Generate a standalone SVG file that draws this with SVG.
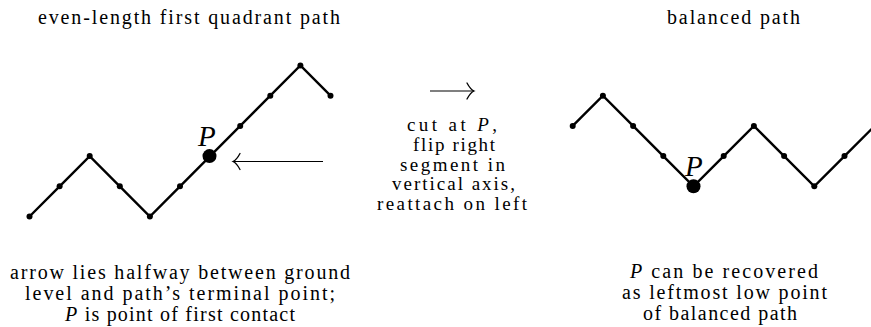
<svg xmlns="http://www.w3.org/2000/svg" width="871" height="327" viewBox="0 0 871 327">
<style>
  text { font-family: "Liberation Serif", "DejaVu Serif", serif; font-size: 20px; fill: #000; }
  .mid { font-size: 19px; }
  .it { font-style: italic; }
  .plabel { font-family: "Liberation Serif", "DejaVu Serif", serif; font-style: italic; font-size: 29px; }
  .path { fill: none; stroke: #000; stroke-width: 2.4; stroke-linejoin: miter; }
  .dot { fill: #000; }
  .big { fill: #000; }
  .arr { fill: none; stroke: #000; stroke-width: 1.1; }
  .head { fill: none; stroke: #000; stroke-width: 1.3; stroke-linecap: round; }
</style>
<rect width="871" height="327" fill="#fff"/>

<g id="titles">
  <text x="38" y="24" textLength="302" lengthAdjust="spacing">even-length first quadrant path</text>
  <text x="667" y="24" textLength="133" lengthAdjust="spacing">balanced path</text>
</g>

<g id="left-path">
  <polyline class="path" points="29.5,216.5 59.6,186.3 89.7,156.1 119.8,186.3 149.9,216.5 180,186.3 210.1,156.1 240.2,125.9 270.3,95.7 300.4,65.5 330.5,95.7"/>
  <g class="dot">
    <circle cx="29.5" cy="216.5" r="3"/>
    <circle cx="59.6" cy="186.3" r="3"/>
    <circle cx="89.7" cy="156.1" r="3"/>
    <circle cx="119.8" cy="186.3" r="3"/>
    <circle cx="149.9" cy="216.5" r="3"/>
    <circle cx="180" cy="186.3" r="3"/>
    <circle cx="240.2" cy="125.9" r="3"/>
    <circle cx="270.3" cy="95.7" r="3"/>
    <circle cx="300.4" cy="65.5" r="3"/>
    <circle cx="330.5" cy="95.7" r="3"/>
  </g>
  <circle class="big" cx="209.5" cy="156.1" r="7"/>
  <text class="plabel" x="198" y="146">P</text>
</g>

<g id="right-path">
  <polyline class="path" points="572.7,125.9 602.9,95.7 633.1,125.9 663.3,156.1 693.5,186.3 723.7,156.1 753.9,125.9 784.1,156.1 814.3,186.3 844.5,156.1 874.7,125.9"/>
  <g class="dot">
    <circle cx="572.7" cy="125.9" r="3"/>
    <circle cx="602.9" cy="95.7" r="3"/>
    <circle cx="633.1" cy="125.9" r="3"/>
    <circle cx="663.3" cy="156.1" r="3"/>
    <circle cx="723.7" cy="156.1" r="3"/>
    <circle cx="753.9" cy="125.9" r="3"/>
    <circle cx="784.1" cy="156.1" r="3"/>
    <circle cx="814.3" cy="186.3" r="3"/>
    <circle cx="844.5" cy="156.1" r="3"/>
  </g>
  <circle class="big" cx="693.5" cy="186.3" r="7"/>
  <text class="plabel" x="685" y="176">P</text>
</g>

<g id="connectors">
  <line class="arr" x1="430" y1="91" x2="473.5" y2="91"/>
  <path class="head" d="M467,83 Q470.5,89.5 474,91 Q470.5,92.5 467,99"/>
  <line class="arr" x1="233.5" y1="161.5" x2="323" y2="161.5"/>
  <path class="head" d="M240,153.5 Q236.5,160 233,161.5 Q236.5,163 240,169.5"/>
</g>

<g id="middle-text">
  <text class="mid" x="407" y="130.5" textLength="90" lengthAdjust="spacing">cut at <tspan class="it">P</tspan>,</text>
  <text class="mid" x="413" y="151" textLength="82" lengthAdjust="spacing">flip right</text>
  <text class="mid" x="400" y="170.5" textLength="105" lengthAdjust="spacing">segment in</text>
  <text class="mid" x="392" y="190" textLength="123" lengthAdjust="spacing">vertical axis,</text>
  <text class="mid" x="377" y="210" textLength="150" lengthAdjust="spacing">reattach on left</text>
</g>

<g id="left-caption">
  <text x="10" y="279" textLength="340" lengthAdjust="spacing">arrow lies halfway between ground</text>
  <text x="25" y="300" textLength="310" lengthAdjust="spacing">level and path’s terminal point;</text>
  <text x="65" y="321" textLength="230" lengthAdjust="spacing"><tspan class="it">P</tspan> is point of first contact</text>
</g>

<g id="right-caption">
  <text x="630" y="278" textLength="188" lengthAdjust="spacing"><tspan class="it">P</tspan> can be recovered</text>
  <text x="622" y="299" textLength="205" lengthAdjust="spacing">as leftmost low point</text>
  <text x="643" y="320" textLength="154" lengthAdjust="spacing">of balanced path</text>
</g>
</svg>
